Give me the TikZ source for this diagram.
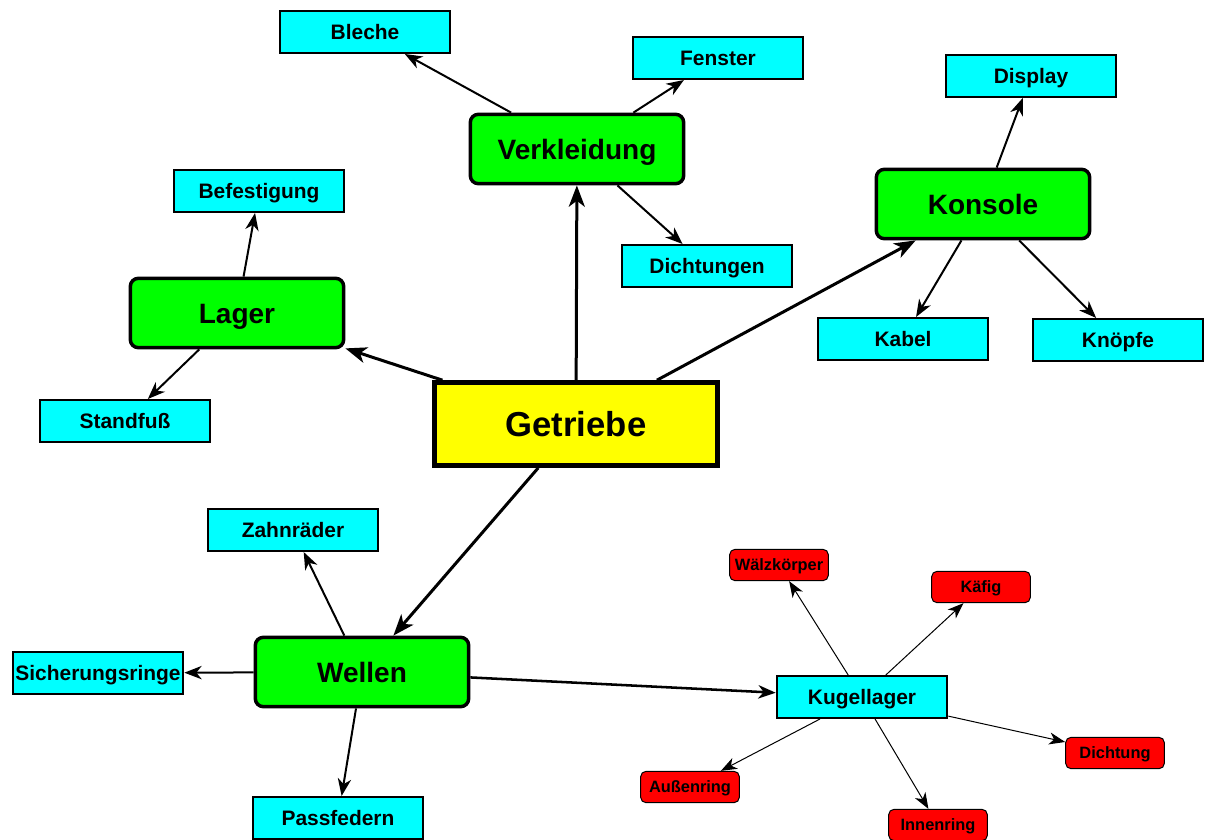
\documentclass[tikz,border=0pt]{standalone}
\usepackage{fontspec}
\setmainfont{Liberation Sans}
\usetikzlibrary{arrows.meta}
\definecolor{cyanbox}{RGB}{0,255,255}
\definecolor{greenbox}{RGB}{0,255,0}
\definecolor{yellowbox}{RGB}{255,255,0}
\definecolor{redbox}{RGB}{255,0,0}
\begin{document}
\begin{tikzpicture}[x=0.75pt,y=-0.75pt,
  every node/.style={text depth=0pt,inner sep=0pt},
  root/.style={draw=black,line width=3.75pt,fill=yellowbox,minimum width=212pt,minimum height=62pt,text height=18.7pt,font=\fontsize{26}{30}\selectfont\bfseries},
  mainbox/.style={draw=black,line width=2.6pt,fill=greenbox,rounded corners=6pt,minimum width=160pt,minimum height=52pt,text height=15.1pt,font=\fontsize{21}{25}\selectfont\bfseries},
  leaf/.style={draw=black,line width=1.5pt,fill=cyanbox,minimum width=128pt,minimum height=31.5pt,text height=11.3pt,font=\fontsize{15.7}{18}\selectfont\bfseries},
  subleaf/.style={draw=black,line width=0.75pt,fill=redbox,rounded corners=4pt,minimum width=74pt,minimum height=23.5pt,text height=8.9pt,font=\fontsize{12.3}{14}\selectfont\bfseries},
  bigarrow/.style={line width=2.25pt,-{Stealth[length=16pt,width=12pt,inset=4.5pt]}},
  midarrow/.style={line width=1.5pt,-{Stealth[length=13pt,width=10pt,inset=4pt]}},
  thinarrow/.style={line width=0.75pt,-{Stealth[length=12pt,width=9pt,inset=3.5pt]}}
]
\useasboundingbox (0,0) rectangle (1205,839);
\fill[white] (0,0) rectangle (1205,839);
\node[root] (G) at (576,424) {Getriebe};
\node[mainbox] (V) at (577,149) {Verkleidung};
\node[mainbox] (L) at (237,313) {Lager};
\node[mainbox] (K) at (983,204) {Konsole};
\node[mainbox] (W) at (362,672) {Wellen};
\node[leaf] (Bl) at (365,32) {Bleche};
\node[leaf] (Fe) at (718,58) {Fenster};
\node[leaf] (Di) at (707,266) {Dichtungen};
\node[leaf] (Be) at (259,191) {Befestigung};
\node[leaf] (St) at (125,421) {Standfuß};
\node[leaf] (Dp) at (1031,76) {Display};
\node[leaf] (Ka) at (903,339) {Kabel};
\node[leaf] (Kn) at (1118,340) {Knöpfe};
\node[leaf] (Za) at (293,530) {Zahnräder};
\node[leaf] (Si) at (98,673) {Sicherungsringe};
\node[leaf] (Pa) at (338,818) {Passfedern};
\node[leaf] (Ku) at (862,697) {Kugellager};
\node[subleaf] (Wa) at (779,565) {Wälzkörper};
\node[subleaf] (Kf) at (981,587) {Käfig};
\node[subleaf] (Dg) at (1115,753) {Dichtung};
\node[subleaf] (Au) at (690,787) {Außenring};
\node[subleaf] (In) at (938,825) {Innenring};
\draw[bigarrow] (G) -- (V);
\draw[bigarrow] (G) -- (L);
\draw[bigarrow] (G) -- (K);
\draw[bigarrow] (G) -- (W);
\draw[midarrow] (V) -- (Bl);
\draw[midarrow] (V) -- (Fe);
\draw[midarrow] (V) -- (Di);
\draw[midarrow] (L) -- (Be);
\draw[midarrow] (L) -- (St);
\draw[midarrow] (K) -- (Dp);
\draw[midarrow] (K) -- (Ka);
\draw[midarrow] (K) -- (Kn);
\draw[midarrow] (W) -- (Za);
\draw[midarrow] (W) -- (Si);
\draw[midarrow] (W) -- (Pa);
\draw[midarrow,line width=1.9pt] (W) -- (Ku);
\draw[thinarrow] (Ku) -- (Wa);
\draw[thinarrow] (Ku) -- (Kf);
\draw[thinarrow] (Ku) -- (Dg);
\draw[thinarrow] (Ku) -- (Au);
\draw[thinarrow] (Ku) -- (In);
\end{tikzpicture}
\end{document}
